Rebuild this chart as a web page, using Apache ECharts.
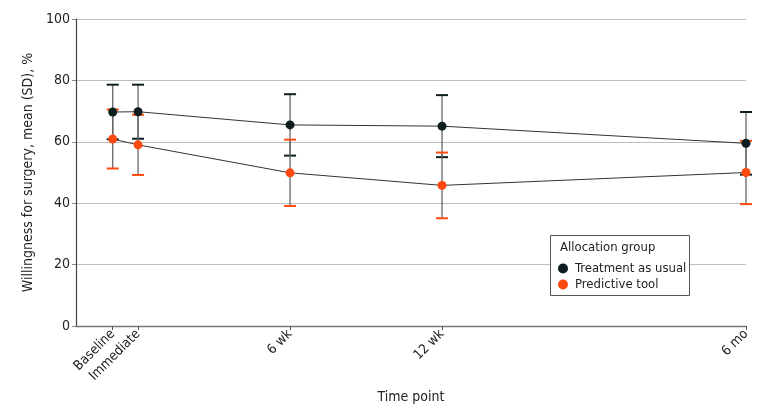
<!DOCTYPE html>
<html>
<head>
<meta charset="utf-8">
<script src="https://cdn.jsdelivr.net/npm/echarts@6/dist/echarts.min.js"></script>
<style>
  html, body { margin: 0; padding: 0; background: #fff; }
  #main { width: 780px; height: 413px; }
</style>
</head>
<body>
<div id="main"></div>
<script>
// time points in weeks relative to the intervention (baseline just before it)
const timePoints = [-1, 0, 6, 12, 24];
const timeLabels = ['Baseline', 'Immediate', '6 wk', '12 wk', '6 mo'];

const usualMean = [69.7, 69.8, 65.5, 65.1, 59.5];
const usualSD = [8.9, 8.8, 10.0, 10.1, 10.2];
const toolMean = [60.9, 59.0, 49.9, 45.8, 50.0];
const toolSD = [9.6, 9.8, 10.8, 10.7, 10.3];

const yTicks = [0, 20, 40, 60, 80, 100];

const FONT = "'DejaVu Sans Condensed', 'Noto Sans', sans-serif";
const usualColor = '#0e1d1f';
const toolColor = '#ff4a0f';

const chartDom = document.getElementById('main');
const myChart = echarts.init(chartDom);

function errorBars(name, color, means, sds) {
  return {
    name: name + ' SD',
    type: 'custom',
    z: 1,
    silent: true,
    data: timePoints.map((t, i) => [t, means[i], sds[i]]),
    renderItem: function (params, api) {
      const x = api.value(0), m = api.value(1), s = api.value(2);
      const top = api.coord([x, m + s]);
      const bot = api.coord([x, m - s]);
      const w = 6;
      return {
        type: 'group',
        children: [
          { type: 'line', shape: { x1: top[0], y1: top[1], x2: bot[0], y2: bot[1] },
            style: { stroke: '#666', lineWidth: 1.3 } },
          { type: 'line', shape: { x1: top[0] - w, y1: top[1], x2: top[0] + w, y2: top[1] },
            style: { stroke: color, lineWidth: 2 } },
          { type: 'line', shape: { x1: bot[0] - w, y1: bot[1], x2: bot[0] + w, y2: bot[1] },
            style: { stroke: color, lineWidth: 2 } }
        ]
      };
    }
  };
}

function meanLine(name, color, means) {
  return {
    name: name,
    type: 'line',
    z: 3,
    data: timePoints.map((t, i) => [t, means[i]]),
    symbol: 'circle',
    symbolSize: 9,
    itemStyle: { color: color },
    lineStyle: { color: '#333', width: 1 },
    emphasis: { disabled: true },
    animation: false
  };
}

const option = {
  animation: false,
  textStyle: { fontFamily: FONT },
  grid: { left: 76, right: 34, top: 19, bottom: 87, outerBoundsMode: 'none' },
  xAxis: {
    type: 'value',
    min: -2.45,
    max: 24,
    name: 'Time point',
    nameLocation: 'middle',
    nameGap: 63,
    nameTextStyle: { fontSize: 14, color: '#222', fontFamily: FONT },
    splitLine: { show: false },
    axisLine: { onZero: false, lineStyle: { color: '#777', width: 1.3 } },
    axisTick: { customValues: timePoints, length: 4, lineStyle: { color: '#555' } },
    axisLabel: {
      customValues: timePoints,
      rotate: 45,
      margin: 6,
      fontSize: 13.5,
      color: '#222',
      fontFamily: FONT,
      formatter: v => timeLabels[timePoints.indexOf(v)] || ''
    }
  },
  yAxis: {
    type: 'value',
    min: 0,
    max: 100,
    interval: 20,
    name: 'Willingness for surgery, mean (SD), %',
    nameLocation: 'middle',
    nameGap: 40,
    nameTextStyle: { fontSize: 14, color: '#222', fontFamily: FONT },
    axisLine: { show: true, onZero: false, lineStyle: { color: '#444', width: 1.2 } },
    axisTick: { show: true, length: 4, lineStyle: { color: '#888' } },
    axisLabel: {
      fontSize: 14,
      color: '#222',
      margin: 6,
      fontFamily: FONT,
      formatter: v => (yTicks.indexOf(v) >= 0 ? String(v) : '')
    },
    splitLine: { lineStyle: { color: '#bdbdbd', width: 1.2 } }
  },
  legend: {
    orient: 'vertical',
    left: 553,
    top: 257,
    itemGap: 3,
    itemWidth: 10,
    itemHeight: 10,
    icon: 'circle',
    data: ['Treatment as usual', 'Predictive tool'],
    textStyle: { fontSize: 13, color: '#222', fontFamily: FONT, padding: [0, 0, 0, 2] },
    selectedMode: false,
    z: 6
  },
  graphic: [
    {
      type: 'rect',
      z: 5,
      shape: { x: 550.5, y: 235.5, width: 139, height: 60 },
      style: { fill: '#fff', stroke: '#555', lineWidth: 1 }
    },
    {
      type: 'text',
      z: 6,
      left: 560,
      top: 241,
      style: { text: 'Allocation group', font: '13px ' + FONT, fill: '#222' }
    }
  ],
  series: [
    errorBars('Treatment as usual', usualColor, usualMean, usualSD),
    errorBars('Predictive tool', toolColor, toolMean, toolSD),
    meanLine('Treatment as usual', usualColor, usualMean),
    meanLine('Predictive tool', toolColor, toolMean)
  ]
};

option && myChart.setOption(option);
</script>
</body>
</html>
